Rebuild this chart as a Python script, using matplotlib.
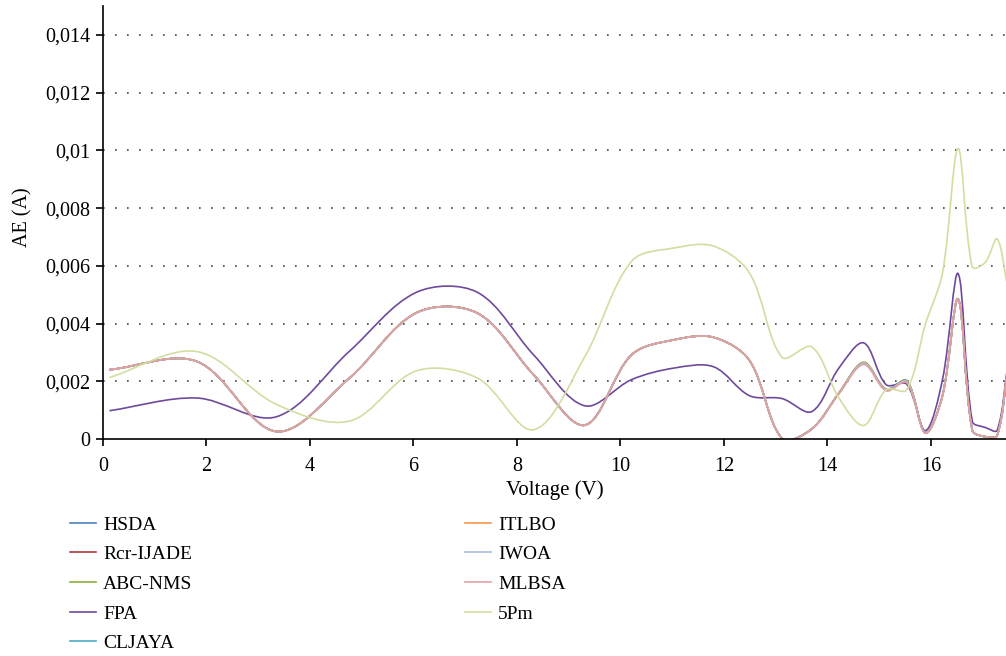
import matplotlib
matplotlib.use("Agg")
import math
import matplotlib.pyplot as plt
from matplotlib.path import Path
from matplotlib.patches import PathPatch
from matplotlib.lines import Line2D
from matplotlib.ticker import FuncFormatter

plt.rcParams['font.family'] = ['Liberation Serif', 'DejaVu Serif']

voltage = [0.1248, 1.8093, 3.3511, 4.7622, 6.0538, 7.2364, 8.3189, 9.3097, 10.2163,
           11.0449, 11.8018, 12.4929, 13.1231, 13.6983, 14.2221, 14.6995, 15.1346,
           15.5311, 15.8929, 16.2229, 16.5241, 16.7987, 17.0499, 17.2793, 17.4885]

hsda = [0.00240, 0.00269, 0.00026, 0.00211, 0.00437, 0.00436, 0.00223, 0.00048, 0.00292,
        0.00344, 0.00352, 0.00272, 0.00002, 0.00035, 0.00159, 0.00263, 0.00171,
        0.00200, 0.00021, 0.00150, 0.00485, 0.00030, 0.00008, 0.00012, 0.00245]
rcr_ijade = [0.00240, 0.00269, 0.00026, 0.00211, 0.00437, 0.00436, 0.00223, 0.00048, 0.00292,
             0.00344, 0.00352, 0.00272, 0.00002, 0.00035, 0.00159, 0.00263, 0.00171,
             0.00200, 0.00021, 0.00150, 0.00485, 0.00030, 0.00008, 0.00012, 0.00245]
abc_nms = [0.00240, 0.00269, 0.00026, 0.00211, 0.00437, 0.00436, 0.00223, 0.00048, 0.00292,
           0.00344, 0.00352, 0.00272, 0.00002, 0.00036, 0.00160, 0.00266, 0.00173,
           0.00203, 0.00022, 0.00152, 0.00485, 0.00030, 0.00008, 0.00012, 0.00245]
fpa = [0.00098, 0.00142, 0.00077, 0.00304, 0.00508, 0.00508, 0.00292, 0.00115, 0.00206,
       0.00246, 0.00250, 0.00150, 0.00140, 0.00095, 0.00246, 0.00333, 0.00188,
       0.00190, 0.00029, 0.00206, 0.00573, 0.00061, 0.00040, 0.00030, 0.00260]
cljaya = [0.00240, 0.00269, 0.00026, 0.00211, 0.00437, 0.00436, 0.00223, 0.00048, 0.00292,
          0.00344, 0.00352, 0.00272, 0.00002, 0.00035, 0.00159, 0.00264, 0.00172,
          0.00202, 0.00022, 0.00151, 0.00485, 0.00030, 0.00008, 0.00012, 0.00245]
itlbo = [0.00240, 0.00269, 0.00026, 0.00211, 0.00437, 0.00436, 0.00223, 0.00048, 0.00292,
         0.00344, 0.00352, 0.00272, 0.00002, 0.00035, 0.00159, 0.00263, 0.00171,
         0.00200, 0.00021, 0.00150, 0.00485, 0.00030, 0.00008, 0.00012, 0.00245]
iwoa = [0.00240, 0.00269, 0.00026, 0.00211, 0.00436, 0.00435, 0.00222, 0.00047, 0.00292,
        0.00344, 0.00352, 0.00272, 0.00002, 0.00035, 0.00159, 0.00262, 0.00170,
        0.00199, 0.00021, 0.00150, 0.00484, 0.00030, 0.00008, 0.00012, 0.00245]
mlbsa = [0.00240, 0.00269, 0.00026, 0.00211, 0.00437, 0.00436, 0.00223, 0.00048, 0.00292,
         0.00344, 0.00352, 0.00272, 0.00002, 0.00034, 0.00157, 0.00258, 0.00167,
         0.00196, 0.00020, 0.00149, 0.00483, 0.00030, 0.00008, 0.00012, 0.00245]
pm5 = [0.00213, 0.00303, 0.00120, 0.00062, 0.00236, 0.00211, 0.00032, 0.00285, 0.00616,
       0.00662, 0.00668, 0.00575, 0.00283, 0.00319, 0.00142, 0.00047, 0.00171,
       0.00170, 0.00398, 0.00575, 0.01006, 0.00596, 0.00612, 0.00693, 0.00520]

series_names = ['HSDA', 'Rcr-IJADE', 'ABC-NMS', 'FPA', 'CLJAYA', 'ITLBO', 'IWOA', 'MLBSA', '5Pm']
series_values = [hsda, rcr_ijade, abc_nms, fpa, cljaya, itlbo, iwoa, mlbsa, pm5]
colors = ['#4f81bd', '#b0393b', '#8cae3a', '#6e4a9c', '#4bacc6', '#f79646', '#a9bfe3', '#e3a0a0', '#d2dea0']

y_ticks = [0, 0.002, 0.004, 0.006, 0.008, 0.010, 0.012, 0.014]
x_ticks = [0, 2, 4, 6, 8, 10, 12, 14, 16]


def smooth_path(ax, x, y):
    """Bezier smoothing (Excel-like): tangents scaled by screen-space segment lengths."""
    n = len(x)
    pix = ax.transData.transform(list(zip(x, y)))
    d = [math.hypot(pix[i + 1][0] - pix[i][0], pix[i + 1][1] - pix[i][1]) for i in range(n - 1)]
    verts = [(x[0], y[0])]
    codes = [Path.MOVETO]
    for i in range(n - 1):
        if i > 0:
            w1 = d[i] / (d[i - 1] + d[i]) / 3.0
            c1 = (x[i] + (x[i + 1] - x[i - 1]) * w1, y[i] + (y[i + 1] - y[i - 1]) * w1)
        else:
            c1 = (x[i] + (x[i + 1] - x[i]) / 3.0, y[i] + (y[i + 1] - y[i]) / 3.0)
        if i + 2 < n:
            w2 = d[i] / (d[i] + d[i + 1]) / 3.0
            c2 = (x[i + 1] - (x[i + 2] - x[i]) * w2, y[i + 1] - (y[i + 2] - y[i]) * w2)
        else:
            c2 = (x[i + 1] - (x[i + 1] - x[i]) / 3.0, y[i + 1] - (y[i + 1] - y[i]) / 3.0)
        verts += [c1, c2, (x[i + 1], y[i + 1])]
        codes += [Path.CURVE4] * 3
    return Path(verts, codes)


fig = plt.figure(figsize=(10.06, 6.56), dpi=100)
ax = fig.add_axes([103 / 1006, 1 - 439 / 656, 1 - 103 / 1006, (439 - 6) / 656])
ax.set_xlim(0, 17.45)
ax.set_ylim(0, 0.015)

handles = []
for name, vals, col in zip(series_names, series_values, colors):
    patch = PathPatch(smooth_path(ax, voltage, vals), facecolor='none', edgecolor=col, lw=1.2)
    ax.add_patch(patch)
    handles.append(Line2D([], [], color=col, lw=1.2, label=name))

ax.set_yticks(y_ticks)
ax.set_xticks(x_ticks)
ax.yaxis.set_major_formatter(FuncFormatter(lambda v, p: f"{v:g}".replace('.', ',')))
for v in y_ticks[1:]:
    ax.axhline(v, color='#444444', lw=1.2, linestyle=(0, (1, 6.2)), zorder=0)

for s in ['top', 'right']:
    ax.spines[s].set_visible(False)
for s in ['left', 'bottom']:
    ax.spines[s].set_linewidth(1.2)
ax.tick_params(axis='both', direction='out', length=5, width=1.2, labelsize=14.5)
ax.tick_params(axis='x', pad=8)
ax.tick_params(axis='y', pad=4)

ax.set_xlabel('Voltage (V)', fontsize=15, labelpad=3)
ax.set_ylabel('AE (A)', fontsize=14.5)
ax.yaxis.set_label_coords(-0.078, 0.513)

leg_kw = dict(loc='upper left', frameon=False, borderpad=0, borderaxespad=0,
              handlelength=1.35, handletextpad=0.35, labelspacing=0.62, fontsize=14)
fig.legend(handles=handles[:5], bbox_to_anchor=(70 / 1006, 1 - 516 / 656), **leg_kw)
fig.legend(handles=handles[5:], bbox_to_anchor=(465 / 1006, 1 - 516 / 656), **leg_kw)

fig.savefig('out.png', dpi=100)
